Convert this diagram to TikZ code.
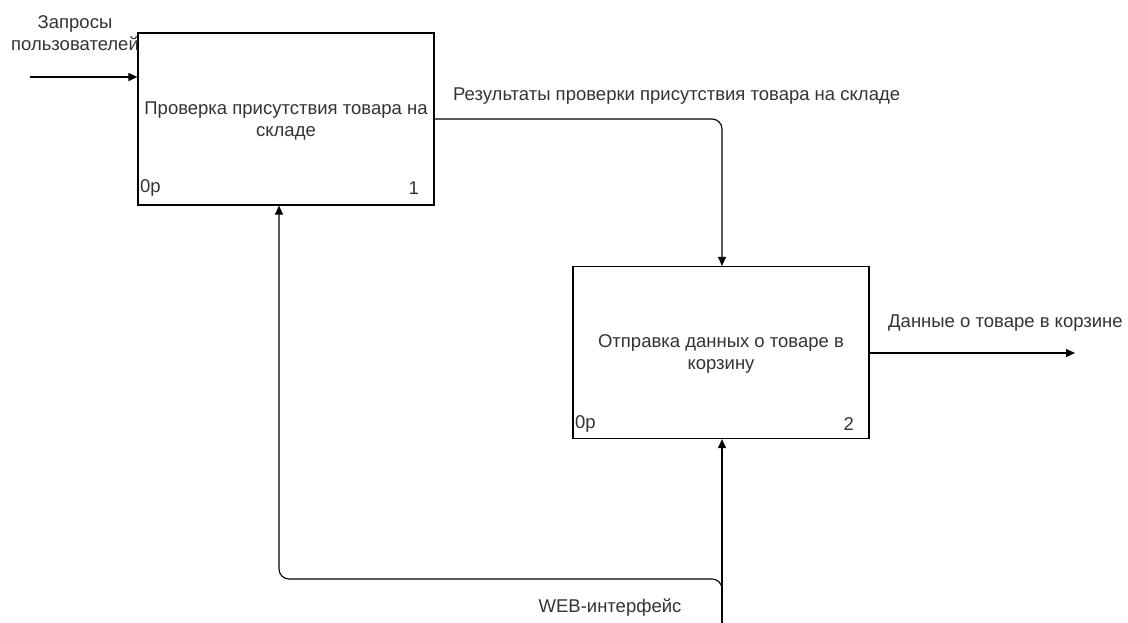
\documentclass[tikz,border=0pt]{standalone}
\usepackage{fontspec}
\setmainfont{Liberation Sans}
\usetikzlibrary{arrows.meta}
\definecolor{txt}{HTML}{333333}
\begin{document}
\begin{tikzpicture}[x=1pt,y=-1pt,
  func/.style={draw=black,line width=1.2pt,fill=white,minimum width=296pt,minimum height=172pt,inner sep=0pt},
  lbl/.style={text=txt,font=\fontsize{18.5}{22}\selectfont,inner sep=0pt},
  flow/.style={draw=black,line width=1.1pt,-{Triangle[length=9pt,width=8pt]},rounded corners=10pt}]
\useasboundingbox (0,0) rectangle (1128,623);
\node[func] (b1) at (286,119) {};
\node[func] (b2) at (721,352.5) {};
\node[lbl,align=center] (t1) at (286,121) {Проверка присутствия товара на\\складе};
\node[lbl,align=center] (t2) at (721,354) {Отправка данных о товаре в\\корзину};
\node[lbl,anchor=west] (n1a) at (140,188) {0р};
\node[lbl,anchor=east] (n1b) at (419,188) {1};
\node[lbl,anchor=west] (n2a) at (575,424) {0р};
\node[lbl,anchor=east] (n2b) at (854,424) {2};
% input
\coordinate (inS) at (30,77);
\draw[flow] (inS) -- (b1.west |- inS);
\node[lbl,align=center] (inL) at (75,33) {Запросы\\пользователей};
% output of b1 to b2
\coordinate (o1) at (b1.east |- 0,119);
\draw[flow] (o1) -- (722,119) -- (b2.north -| 722,0);
\node[lbl,anchor=west] (o1L) at (453,96) {Результаты проверки присутствия товара на складе};
% output of b2
\coordinate (o2E) at (1075,353);
\draw[flow] (b2.east |- o2E) -- (o2E);
\node[lbl,anchor=west] (o2L) at (888,323) {Данные о товаре в корзине};
% mechanism
\coordinate (mS) at (722,623);
\draw[flow] (mS) -- (b2.south -| mS);
\draw[flow] (722,590) -- (722,579) -- (279,579) -- (b1.south -| 279,0);
\node[lbl] (mL) at (610,608) {WEB-интерфейс};
\end{tikzpicture}
\end{document}
